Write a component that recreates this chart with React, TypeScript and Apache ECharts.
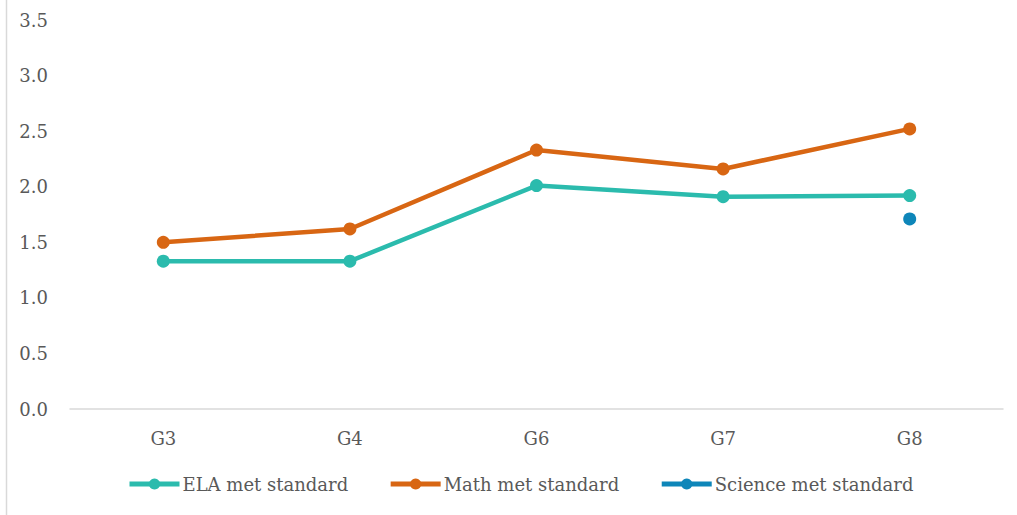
import React, { useEffect, useRef } from "react";
import * as echarts from "echarts";

const categories = ["G3", "G4", "G6", "G7", "G8"];
const elaValues = [1.33, 1.33, 2.01, 1.91, 1.92];
const mathValues = [1.5, 1.62, 2.33, 2.16, 2.52];
const scienceValues: (number | null)[] = [null, null, null, null, 1.71];
const seriesNames = ["ELA met standard", "Math met standard", "Science met standard"];
const colors = ["#2BBBAD", "#D86613", "#0E86B9"];

export default function App() {
  const ref = useRef<HTMLDivElement>(null);
  useEffect(() => {
    if (!ref.current) return;
    const chart = echarts.init(ref.current, undefined, { renderer: "svg" });
    const font = "'DejaVu Serif', serif";
    const mk = (i: number, data: (number | null)[]) => ({
      name: seriesNames[i],
      type: "line",
      data,
      symbol: "circle",
      symbolSize: 13,
      showAllSymbol: true,
      lineStyle: { width: 4.5, color: colors[i] },
      itemStyle: { color: colors[i] },
      connectNulls: false,
    });
    chart.setOption({
      animation: false,
      backgroundColor: "#ffffff",
      textStyle: { fontFamily: font },
      grid: { left: 70, right: 14, top: 20, bottom: 106, containLabel: false },
      legend: {
        bottom: 17,
        left: 122,
        itemWidth: 50,
        itemHeight: 14,
        itemGap: 40,
        lineStyle: { width: 5 },
        textStyle: { fontFamily: font, fontSize: 18, color: "#595959", padding: [0, 0, 0, -2] },
        data: seriesNames,
      },
      xAxis: {
        type: "category",
        data: categories,
        axisLine: { lineStyle: { color: "#D9D9D9", width: 1.5 } },
        axisTick: { show: false },
        axisLabel: { color: "#595959", fontFamily: font, fontSize: 18, margin: 20 },
      },
      yAxis: {
        type: "value",
        min: 0,
        max: 3.5,
        interval: 0.5,
        splitLine: { show: false },
        axisLine: { show: false },
        axisTick: { show: false },
        axisLabel: {
          color: "#595959",
          fontFamily: font,
          fontSize: 18,
          margin: 22,
          formatter: (v: number) => v.toFixed(1),
        },
      },
      graphic: [
        {
          type: "line",
          shape: { x1: 6.5, y1: 0, x2: 6.5, y2: 515 },
          style: { stroke: "#D9D9D9", lineWidth: 1.5 },
        },
      ],
      series: [mk(0, elaValues), mk(1, mathValues), mk(2, scienceValues)],
    });
    return () => chart.dispose();
  }, []);
  return (
    <div
      ref={ref}
      style={{ position: "absolute", left: 0, top: 0, width: 1017, height: 515 }}
    />
  );
}
